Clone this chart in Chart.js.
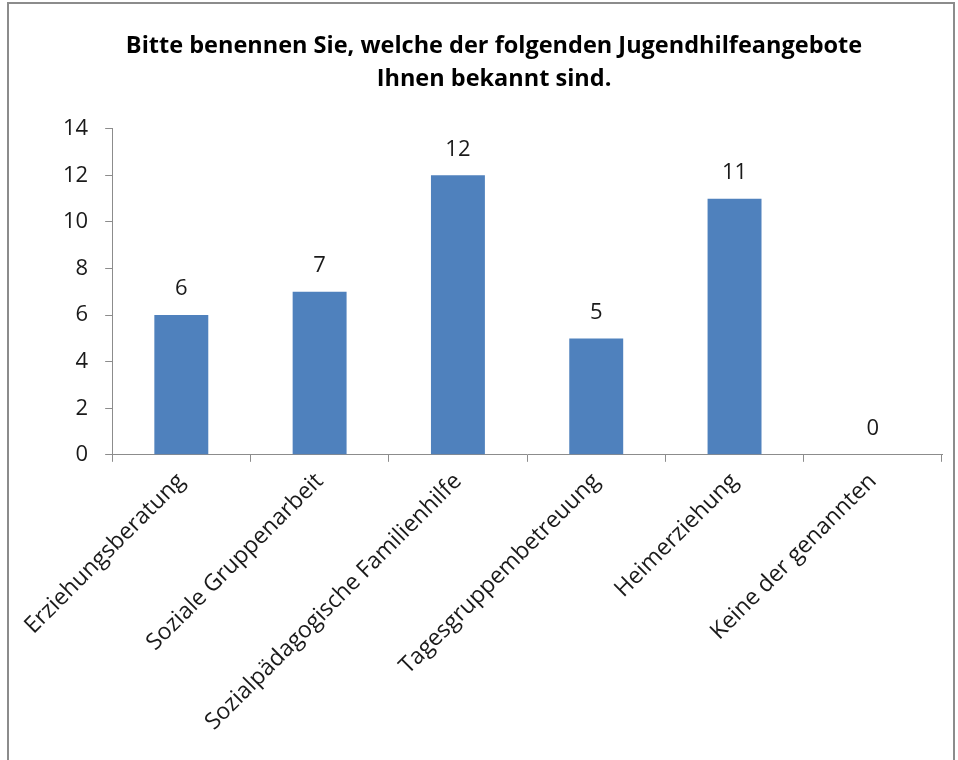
<!DOCTYPE html>
<html><head><meta charset="utf-8">
<script src="https://cdn.jsdelivr.net/npm/chart.js@4/dist/chart.umd.min.js"></script>
<style>
html,body{margin:0;padding:0;background:#fff;width:958px;height:760px;overflow:hidden}
#frame{position:absolute;left:7px;top:2px;width:948px;height:800px;border:2px solid #8c8c8c;box-sizing:border-box}
canvas{position:absolute;left:0;top:0}
</style></head><body>
<div id="frame"></div>
<canvas id="c" width="958" height="760"></canvas>
<script>
const titleLines = ["Bitte benennen Sie, welche der folgenden Jugendhilfeangebote", "Ihnen bekannt sind."];
const categories = ["Erziehungsberatung", "Soziale Gruppenarbeit", "Sozialpädagogische Familienhilfe", "Tagesgruppembetreuung", "Heimerziehung", "Keine der genannten"];
const values = [6, 7, 12, 5, 11, 0];
const yMin = 0, yMax = 14, yStep = 2;

const FONT = "'Open Sans', Lato, 'Liberation Sans', Arial, sans-serif";
const TEXT = "#1a1a1a";

const dataLabels = {
  id: 'dataLabels',
  afterDatasetsDraw(chart) {
    const ctx = chart.ctx;
    const meta = chart.getDatasetMeta(0);
    ctx.save();
    ctx.font = "22px " + FONT;
    ctx.fillStyle = TEXT;
    ctx.textAlign = 'center';
    ctx.textBaseline = 'middle';
    meta.data.forEach((el, i) => {
      ctx.fillText(String(values[i]), el.x, el.y - 26);
    });
    ctx.restore();
  }
};

new Chart(document.getElementById('c'), {
  type: 'bar',
  data: {
    labels: categories,
    datasets: [{
      data: values,
      backgroundColor: '#4F81BD',
      borderWidth: 0,
      barPercentage: 1,
      categoryPercentage: 0.39
    }]
  },
  options: {
    responsive: false,
    animation: false,
    devicePixelRatio: 1,
    layout: { padding: { left: 46, right: 16, top: 20, bottom: 18 } },
    plugins: {
      legend: { display: false },
      tooltip: { enabled: false },
      title: {
        display: true,
        text: titleLines,
        color: '#000',
        font: { family: FONT, size: 23.5, weight: 'bold', lineHeight: 1.4 },
        padding: { top: 10, bottom: 33 }
      }
    },
    scales: {
      x: {
        grid: { display: true, drawOnChartArea: false, drawTicks: true, tickLength: 7, color: '#8c8c8c', offset: true },
        border: { display: true, color: '#8c8c8c', width: 1 },
        ticks: {
          color: TEXT,
          font: { family: FONT, size: 23 },
          maxRotation: 45, minRotation: 45,
          padding: 6,
          autoSkip: false
        }
      },
      y: {
        min: yMin, max: yMax,
        grid: { display: true, drawOnChartArea: false, drawTicks: true, tickLength: 7, color: '#8c8c8c' },
        border: { display: true, color: '#8c8c8c', width: 1 },
        ticks: {
          stepSize: yStep,
          color: TEXT,
          font: { family: FONT, size: 22 },
          padding: 17
        }
      }
    }
  },
  plugins: [dataLabels]
});
</script>
</body></html>
